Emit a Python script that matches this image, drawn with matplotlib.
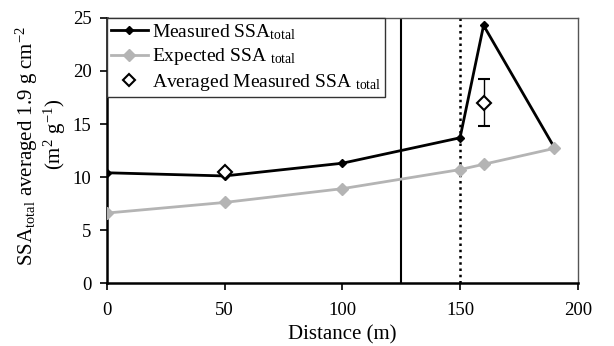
import numpy as np
import matplotlib
matplotlib.use("Agg")
import matplotlib.pyplot as plt
from matplotlib.lines import Line2D

plt.rcParams.update({'font.family': 'Liberation Serif', 'mathtext.fontset': 'custom',
                     'mathtext.rm': 'Liberation Serif', 'mathtext.it': 'Liberation Serif:italic',
                     'font.size': 13.5})

dist = [0, 50, 100, 150, 160, 190]
measured = [10.4, 10.1, 11.3, 13.7, 24.3, 12.8]
expected = [6.6, 7.6, 8.9, 10.7, 11.2, 12.7]
avg_x = [50, 160]
avg_y = [10.5, 17.0]
avg_err = [0, 2.2]
solid_line_x = 125
dotted_line_x = 150

fig = plt.figure(figsize=(6.14, 3.46), dpi=100)
ax = fig.add_axes([0.174, 0.182, 0.767, 0.766])

ax.axvline(solid_line_x, color='black', lw=1.5, zorder=1)
ax.axvline(dotted_line_x, color='black', lw=1.8, ls=(0, (1, 1.5)), zorder=1)

ax.plot(dist, measured, color='black', lw=2, marker='D', ms=4.5, zorder=2)
ax.plot(dist, expected, color='#b4b4b4', lw=2, marker='D', ms=6, zorder=3)
ax.errorbar(avg_x, avg_y, yerr=avg_err, fmt='D', mfc='white', mec='black', mew=1.5, ms=7,
            ecolor='black', elinewidth=1, capsize=4, zorder=4)

ax.set_xlim(0, 200)
ax.set_ylim(0, 25)
ax.set_xticks(np.arange(0, 201, 50))
ax.set_yticks(np.arange(0, 26, 5))
ax.tick_params(direction='out', length=5, width=1.2, pad=6)
ax.tick_params(axis='x', pad=9)
for s in ['left', 'bottom']:
    ax.spines[s].set_linewidth(1.8)
for s in ['top', 'right']:
    ax.spines[s].set_color('#555555')
    ax.spines[s].set_linewidth(1)

ax.set_xlabel('Distance (m)', fontsize=15)
fig.text(0.044, 0.578, 'SSA$_{\\mathrm{total}}$ averaged 1.9 g cm$^{-2}$', fontsize=15,
         rotation=90, ha='center', va='center')
fig.text(0.089, 0.61, '(m$^{2}$ g$^{-1}$)', fontsize=15,
         rotation=90, ha='center', va='center')

handles = [Line2D([], [], color='black', lw=2, marker='D', ms=4.5),
           Line2D([], [], color='#b4b4b4', lw=2, marker='D', ms=6),
           Line2D([], [], ls='none', marker='D', mfc='white', mec='black', mew=1.5, ms=6)]
labels = [r'Measured SSA$_{\mathrm{total}}$', r'Expected SSA $_{\mathrm{total}}$',
          r'Averaged Measured SSA $_{\mathrm{total}}$']
ax.legend(handles, labels, loc='upper left', fontsize=14,
          bbox_to_anchor=(0, 1), borderaxespad=0, fancybox=False, edgecolor='#333333',
          framealpha=1, handlelength=1.9, handletextpad=0.2, labelspacing=0.25,
          borderpad=0.2)

fig.savefig('out.png', dpi=100)
